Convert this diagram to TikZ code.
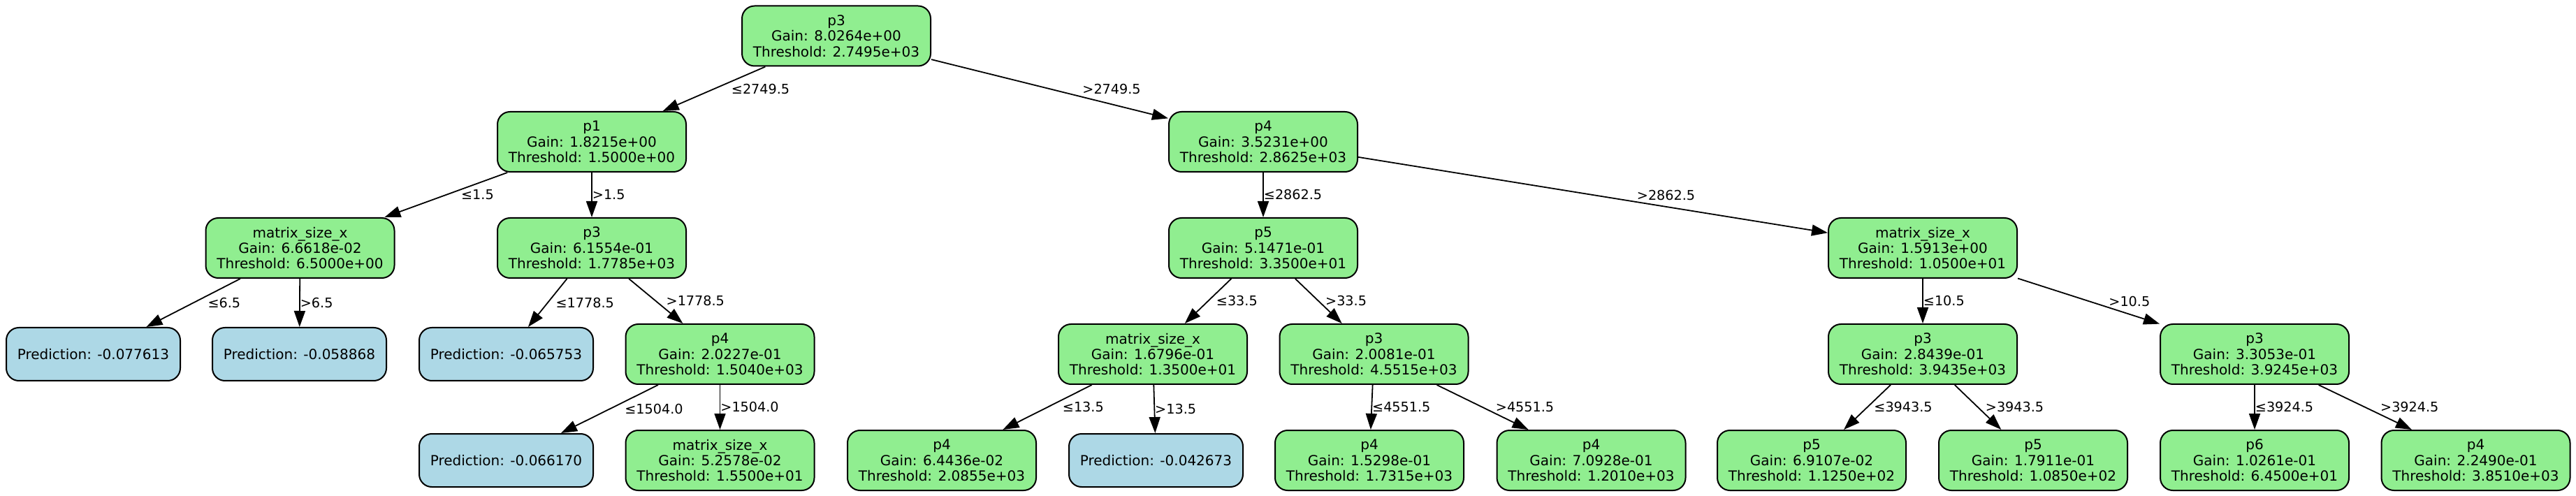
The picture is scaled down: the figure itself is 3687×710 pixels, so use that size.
\documentclass[tikz,border=0pt]{standalone}
\usepackage{fontspec}
\setmainfont{DejaVu Sans}
\usetikzlibrary{arrows.meta}
\definecolor{gnode}{HTML}{90EE90}
\definecolor{bnode}{HTML}{ADD8E6}
\tikzset{
  gbox/.style={draw=black, line width=1pt, fill=gnode, rounded corners=9pt,
    minimum width=135pt, minimum height=43pt, inner sep=0pt, align=center,
    font=\fontsize{10pt}{11.2pt}\selectfont},
  pbox/.style={draw=black, line width=1pt, fill=bnode, rounded corners=9pt,
    minimum width=124.5pt, minimum height=38pt, inner sep=0pt, align=center,
    font=\fontsize{10pt}{11.2pt}\selectfont},
  edge/.style={draw=black, line width=0.9pt, -{Triangle[length=11.5pt,width=8pt]}},
  elab/.style={anchor=west, inner sep=0pt, font=\fontsize{9.6pt}{11pt}\selectfont}
}
\begin{document}
\begin{tikzpicture}[x=0.5pt, y=-0.5pt]
\useasboundingbox (0,0) rectangle (3687,710);
% level 0
\node[gbox] (n0) at (1197,51.5) {p3\\Gain: 8.0264e+00\\Threshold: 2.7495e+03};
% level 1
\node[gbox] (n1) at (847,203) {p1\\Gain: 1.8215e+00\\Threshold: 1.5000e+00};
\node[gbox] (n2) at (1808,203) {p4\\Gain: 3.5231e+00\\Threshold: 2.8625e+03};
% level 2
\node[gbox] (n3) at (429.5,355) {matrix\_size\_x\\Gain: 6.6618e-02\\Threshold: 6.5000e+00};
\node[gbox] (n4) at (847,355) {p3\\Gain: 6.1554e-01\\Threshold: 1.7785e+03};
\node[gbox] (n5) at (1808,355) {p5\\Gain: 5.1471e-01\\Threshold: 3.3500e+01};
\node[gbox] (n6) at (2752,355) {matrix\_size\_x\\Gain: 1.5913e+00\\Threshold: 1.0500e+01};
% level 3
\node[pbox] (n7) at (133.5,507) {Prediction: -0.077613};
\node[pbox] (n8) at (428.5,507) {Prediction: -0.058868};
\node[pbox] (n9) at (724.5,507) {Prediction: -0.065753};
\node[gbox] (n10) at (1030.5,507) {p4\\Gain: 2.0227e-01\\Threshold: 1.5040e+03};
\node[gbox] (n11) at (1650,507) {matrix\_size\_x\\Gain: 1.6796e-01\\Threshold: 1.3500e+01};
\node[gbox] (n12) at (1966.5,507) {p3\\Gain: 2.0081e-01\\Threshold: 4.5515e+03};
\node[gbox] (n13) at (2752,507) {p3\\Gain: 2.8439e-01\\Threshold: 3.9435e+03};
\node[gbox] (n14) at (3227,507) {p3\\Gain: 3.3053e-01\\Threshold: 3.9245e+03};
% level 4
\node[pbox] (n15) at (724.5,659) {Prediction: -0.066170};
\node[gbox] (n16) at (1030.5,659) {matrix\_size\_x\\Gain: 5.2578e-02\\Threshold: 1.5500e+01};
\node[gbox] (n17) at (1348,659) {p4\\Gain: 6.4436e-02\\Threshold: 2.0855e+03};
\node[pbox] (n18) at (1654.5,659) {Prediction: -0.042673};
\node[gbox] (n19) at (1960,659) {p4\\Gain: 1.5298e-01\\Threshold: 1.7315e+03};
\node[gbox] (n20) at (2277.5,659) {p4\\Gain: 7.0928e-01\\Threshold: 1.2010e+03};
\node[gbox] (n21) at (2593,659) {p5\\Gain: 6.9107e-02\\Threshold: 1.1250e+02};
\node[gbox] (n22) at (2910,659) {p5\\Gain: 1.7911e-01\\Threshold: 1.0850e+02};
\node[gbox] (n23) at (3227,659) {p6\\Gain: 1.0261e-01\\Threshold: 6.4500e+01};
\node[gbox] (n24) at (3543.5,659) {p4\\Gain: 2.2490e-01\\Threshold: 3.8510e+03};
% edges
\draw[edge] (n0) -- node[elab, xshift=12pt]{≤2749.5} (n1);
\draw[edge] (n0) -- node[elab, xshift=23pt]{>2749.5} (n2);
\draw[edge] (n1) -- node[elab, xshift=10.5pt]{≤1.5} (n3);
\draw[edge] (n1) -- node[elab]{>1.5} (n4);
\draw[edge] (n2) -- node[elab]{≤2862.5} (n5);
\draw[edge] (n2) -- node[elab, xshift=31pt]{>2862.5} (n6);
\draw[edge] (n3) -- node[elab, xshift=10pt]{≤6.5} (n7);
\draw[edge] (n3) -- node[elab]{>6.5} (n8);
\draw[edge] (n4) -- node[elab, xshift=5.5pt]{≤1778.5} (n9);
\draw[edge] (n4) -- node[elab, xshift=7pt]{>1778.5} (n10);
\draw[edge] (n5) -- node[elab, xshift=5.5pt]{≤33.5} (n11);
\draw[edge] (n5) -- node[elab, xshift=4.5pt]{>33.5} (n12);
\draw[edge] (n6) -- node[elab]{≤10.5} (n13);
\draw[edge] (n6) -- node[elab, xshift=14pt]{>10.5} (n14);
\draw[edge] (n10) -- node[elab, xshift=10.5pt]{≤1504.0} (n15);
\draw[edge] (n10) -- node[elab]{>1504.0} (n16);
\draw[edge] (n11) -- node[elab, xshift=10.5pt]{≤13.5} (n17);
\draw[edge] (n11) -- node[elab]{>13.5} (n18);
\draw[edge] (n12) -- node[elab]{≤4551.5} (n19);
\draw[edge] (n12) -- node[elab, xshift=9pt]{>4551.5} (n20);
\draw[edge] (n13) -- node[elab, xshift=4.5pt]{≤3943.5} (n21);
\draw[edge] (n13) -- node[elab, xshift=5pt]{>3943.5} (n22);
\draw[edge] (n14) -- node[elab]{≤3924.5} (n23);
\draw[edge] (n14) -- node[elab, xshift=10.5pt]{>3924.5} (n24);
\end{tikzpicture}
\end{document}
